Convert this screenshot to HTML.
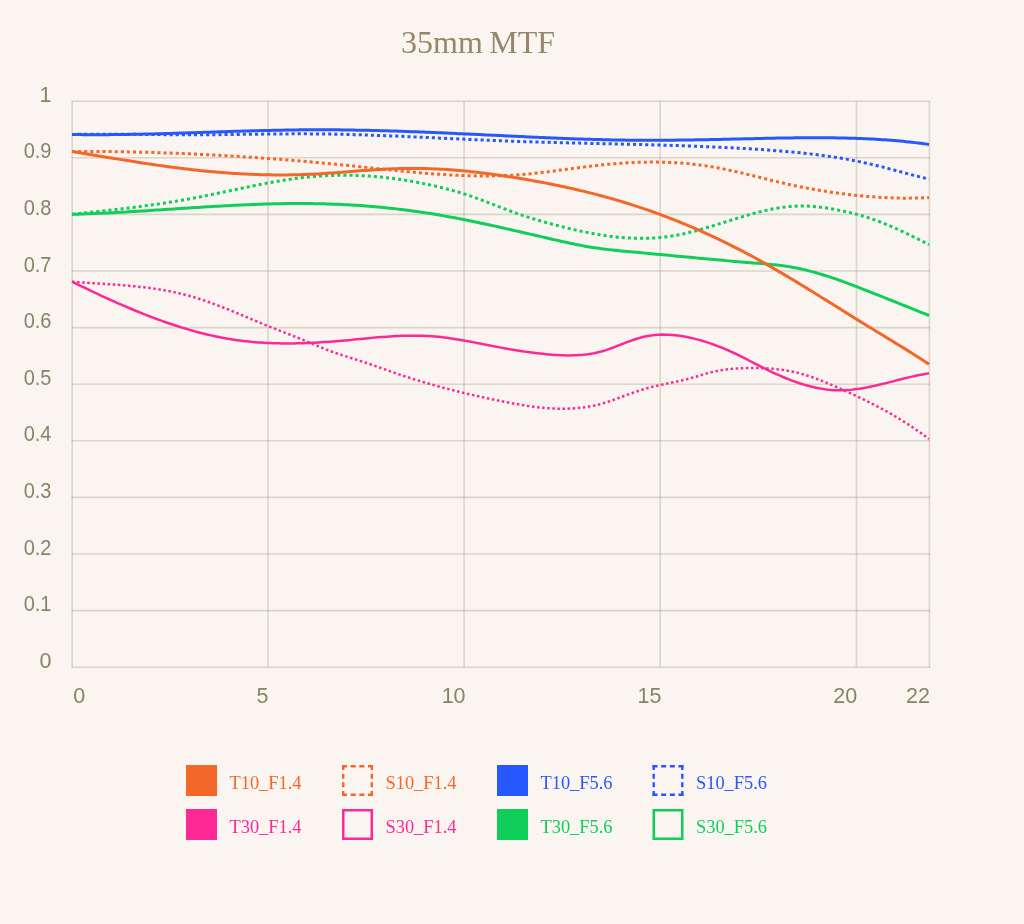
<!DOCTYPE html>
<html><head><meta charset="utf-8"><title>35mm MTF</title>
<style>
html,body{margin:0;padding:0;background:#faf5f1;}
body{width:1024px;height:924px;overflow:hidden;position:relative;}
svg{position:absolute;left:0;top:0;display:block;}
.ax{font-family:"Liberation Sans",sans-serif;font-size:21.5px;fill:#8b8266;}
.ti{font-family:"Liberation Serif",serif;font-size:32px;fill:#96876a;}
.lg{font-family:"Liberation Serif",serif;font-size:18.4px;}
</style></head>
<body>
<svg width="1024" height="924" viewBox="0 0 1024 924">
<rect width="1024" height="924" fill="#faf5f1"/>
<text class="ti" x="401" y="52.9">35mm<tspan dx="-1.6"> MTF</tspan></text>
<g>
<line x1="71.4" y1="667.2" x2="930.2" y2="667.2" stroke="rgba(165,150,120,0.33)" stroke-width="1.6"/>
<line x1="71.4" y1="610.6" x2="930.2" y2="610.6" stroke="rgba(165,150,120,0.33)" stroke-width="1.6"/>
<line x1="71.4" y1="554.0" x2="930.2" y2="554.0" stroke="rgba(165,150,120,0.33)" stroke-width="1.6"/>
<line x1="71.4" y1="497.4" x2="930.2" y2="497.4" stroke="rgba(165,150,120,0.33)" stroke-width="1.6"/>
<line x1="71.4" y1="440.8" x2="930.2" y2="440.8" stroke="rgba(165,150,120,0.33)" stroke-width="1.6"/>
<line x1="71.4" y1="384.2" x2="930.2" y2="384.2" stroke="rgba(165,150,120,0.33)" stroke-width="1.6"/>
<line x1="71.4" y1="327.6" x2="930.2" y2="327.6" stroke="rgba(165,150,120,0.33)" stroke-width="1.6"/>
<line x1="71.4" y1="271.0" x2="930.2" y2="271.0" stroke="rgba(165,150,120,0.33)" stroke-width="1.6"/>
<line x1="71.4" y1="214.4" x2="930.2" y2="214.4" stroke="rgba(165,150,120,0.33)" stroke-width="1.6"/>
<line x1="71.4" y1="157.8" x2="930.2" y2="157.8" stroke="rgba(165,150,120,0.33)" stroke-width="1.6"/>
<line x1="71.4" y1="101.2" x2="930.2" y2="101.2" stroke="rgba(165,150,120,0.33)" stroke-width="1.6"/>
<line x1="72.2" y1="101.2" x2="72.2" y2="667.2" stroke="rgba(165,150,120,0.33)" stroke-width="1.6"/>
<line x1="268.0" y1="101.2" x2="268.0" y2="667.2" stroke="rgba(165,150,120,0.33)" stroke-width="1.6"/>
<line x1="464.1" y1="101.2" x2="464.1" y2="667.2" stroke="rgba(165,150,120,0.33)" stroke-width="1.6"/>
<line x1="660.2" y1="101.2" x2="660.2" y2="667.2" stroke="rgba(165,150,120,0.33)" stroke-width="1.6"/>
<line x1="856.5" y1="101.2" x2="856.5" y2="667.2" stroke="rgba(165,150,120,0.33)" stroke-width="1.6"/>
<line x1="929.4" y1="101.2" x2="929.4" y2="667.2" stroke="rgba(165,150,120,0.33)" stroke-width="1.6"/>
<path d="M72.0,281.69 L75.0,281.93 L78.0,282.16 L81.0,282.38 L84.0,282.59 L87.0,282.79 L90.0,282.99 L93.0,283.19 L96.0,283.38 L99.0,283.58 L102.0,283.77 L105.0,283.97 L108.0,284.16 L111.0,284.37 L114.0,284.58 L117.0,284.80 L120.0,285.02 L123.0,285.26 L126.0,285.51 L129.0,285.77 L132.0,286.04 L135.0,286.33 L138.0,286.64 L141.0,286.97 L144.0,287.31 L147.0,287.68 L150.0,288.07 L153.0,288.48 L156.0,288.92 L159.0,289.38 L162.0,289.87 L165.0,290.40 L168.0,290.95 L171.0,291.53 L174.0,292.15 L177.0,292.80 L180.0,293.49 L183.0,294.21 L186.0,294.98 L189.0,295.78 L192.0,296.62 L195.0,297.51 L198.0,298.44 L201.0,299.41 L204.0,300.41 L207.0,301.44 L210.0,302.51 L213.0,303.60 L216.0,304.73 L219.0,305.87 L222.0,307.04 L225.0,308.23 L228.0,309.43 L231.0,310.65 L234.0,311.89 L237.0,313.13 L240.0,314.38 L243.0,315.64 L246.0,316.90 L249.0,318.16 L252.0,319.42 L255.0,320.68 L258.0,321.93 L261.0,323.17 L264.0,324.41 L267.0,325.63 L270.0,326.83 L273.0,328.02 L276.0,329.20 L279.0,330.38 L282.0,331.55 L285.0,332.71 L288.0,333.89 L291.0,335.06 L294.0,336.25 L297.0,337.45 L300.0,338.66 L303.0,339.89 L306.0,341.14 L309.0,342.40 L312.0,343.67 L315.0,344.93 L318.0,346.18 L321.0,347.42 L324.0,348.62 L327.0,349.80 L330.0,350.94 L333.0,352.04 L336.0,353.09 L339.0,354.11 L342.0,355.10 L345.0,356.07 L348.0,357.03 L351.0,357.98 L354.0,358.92 L357.0,359.87 L360.0,360.82 L363.0,361.79 L366.0,362.78 L369.0,363.80 L372.0,364.83 L375.0,365.87 L378.0,366.93 L381.0,367.99 L384.0,369.05 L387.0,370.12 L390.0,371.18 L393.0,372.24 L396.0,373.28 L399.0,374.31 L402.0,375.32 L405.0,376.32 L408.0,377.30 L411.0,378.27 L414.0,379.22 L417.0,380.15 L420.0,381.07 L423.0,381.98 L426.0,382.87 L429.0,383.75 L432.0,384.61 L435.0,385.46 L438.0,386.29 L441.0,387.11 L444.0,387.92 L447.0,388.72 L450.0,389.50 L453.0,390.27 L456.0,391.03 L459.0,391.77 L462.0,392.51 L465.0,393.23 L468.0,393.94 L471.0,394.64 L474.0,395.33 L477.0,396.01 L480.0,396.68 L483.0,397.34 L486.0,397.99 L489.0,398.63 L492.0,399.26 L495.0,399.88 L498.0,400.49 L501.0,401.09 L504.0,401.69 L507.0,402.27 L510.0,402.85 L513.0,403.41 L516.0,403.95 L519.0,404.47 L522.0,404.98 L525.0,405.46 L528.0,405.92 L531.0,406.35 L534.0,406.75 L537.0,407.13 L540.0,407.47 L543.0,407.77 L546.0,408.04 L549.0,408.27 L552.0,408.46 L555.0,408.60 L558.0,408.70 L561.0,408.75 L564.0,408.75 L567.0,408.71 L570.0,408.60 L573.0,408.44 L576.0,408.23 L579.0,407.95 L582.0,407.61 L585.0,407.21 L588.0,406.74 L591.0,406.21 L594.0,405.60 L597.0,404.92 L600.0,404.17 L603.0,403.33 L606.0,402.43 L609.0,401.46 L612.0,400.44 L615.0,399.38 L618.0,398.28 L621.0,397.17 L624.0,396.04 L627.0,394.92 L630.0,393.81 L633.0,392.72 L636.0,391.67 L639.0,390.66 L642.0,389.70 L645.0,388.81 L648.0,387.97 L651.0,387.19 L654.0,386.45 L657.0,385.75 L660.0,385.08 L663.0,384.43 L666.0,383.80 L669.0,383.17 L672.0,382.54 L675.0,381.91 L678.0,381.26 L681.0,380.60 L684.0,379.90 L687.0,379.16 L690.0,378.39 L693.0,377.56 L696.0,376.69 L699.0,375.79 L702.0,374.88 L705.0,373.99 L708.0,373.13 L711.0,372.33 L714.0,371.61 L717.0,370.98 L720.0,370.42 L723.0,369.93 L726.0,369.51 L729.0,369.16 L732.0,368.87 L735.0,368.63 L738.0,368.44 L741.0,368.29 L744.0,368.19 L747.0,368.12 L750.0,368.08 L753.0,368.07 L756.0,368.08 L759.0,368.12 L762.0,368.20 L765.0,368.31 L768.0,368.45 L771.0,368.64 L774.0,368.88 L777.0,369.17 L780.0,369.51 L783.0,369.91 L786.0,370.38 L789.0,370.90 L792.0,371.50 L795.0,372.17 L798.0,372.91 L801.0,373.71 L804.0,374.58 L807.0,375.51 L810.0,376.49 L813.0,377.52 L816.0,378.61 L819.0,379.74 L822.0,380.91 L825.0,382.11 L828.0,383.35 L831.0,384.62 L834.0,385.92 L837.0,387.23 L840.0,388.55 L843.0,389.89 L846.0,391.24 L849.0,392.60 L852.0,393.98 L855.0,395.38 L858.0,396.79 L861.0,398.22 L864.0,399.67 L867.0,401.14 L870.0,402.64 L873.0,404.16 L876.0,405.71 L879.0,407.28 L882.0,408.89 L885.0,410.53 L888.0,412.20 L891.0,413.90 L894.0,415.64 L897.0,417.42 L900.0,419.23 L903.0,421.09 L906.0,422.98 L909.0,424.92 L912.0,426.91 L915.0,428.94 L918.0,431.01 L921.0,433.14 L924.0,435.32 L927.0,437.55 L929.0,439.06" fill="none" stroke="#ff2994" stroke-width="2.5" stroke-linejoin="round" stroke-dasharray="2.5 2.6"/>
<path d="M72.0,281.64 L75.0,283.12 L78.0,284.58 L81.0,286.04 L84.0,287.49 L87.0,288.94 L90.0,290.37 L93.0,291.79 L96.0,293.21 L99.0,294.61 L102.0,296.01 L105.0,297.39 L108.0,298.76 L111.0,300.12 L114.0,301.46 L117.0,302.79 L120.0,304.11 L123.0,305.42 L126.0,306.71 L129.0,307.99 L132.0,309.25 L135.0,310.49 L138.0,311.72 L141.0,312.93 L144.0,314.13 L147.0,315.30 L150.0,316.46 L153.0,317.60 L156.0,318.72 L159.0,319.82 L162.0,320.91 L165.0,321.97 L168.0,323.01 L171.0,324.03 L174.0,325.03 L177.0,326.00 L180.0,326.95 L183.0,327.88 L186.0,328.79 L189.0,329.67 L192.0,330.53 L195.0,331.36 L198.0,332.17 L201.0,332.95 L204.0,333.70 L207.0,334.43 L210.0,335.13 L213.0,335.81 L216.0,336.45 L219.0,337.07 L222.0,337.65 L225.0,338.21 L228.0,338.74 L231.0,339.24 L234.0,339.70 L237.0,340.14 L240.0,340.54 L243.0,340.92 L246.0,341.27 L249.0,341.59 L252.0,341.88 L255.0,342.14 L258.0,342.38 L261.0,342.59 L264.0,342.78 L267.0,342.94 L270.0,343.08 L273.0,343.19 L276.0,343.28 L279.0,343.35 L282.0,343.40 L285.0,343.43 L288.0,343.43 L291.0,343.42 L294.0,343.38 L297.0,343.33 L300.0,343.26 L303.0,343.17 L306.0,343.07 L309.0,342.94 L312.0,342.81 L315.0,342.65 L318.0,342.49 L321.0,342.31 L324.0,342.11 L327.0,341.90 L330.0,341.69 L333.0,341.45 L336.0,341.21 L339.0,340.96 L342.0,340.70 L345.0,340.43 L348.0,340.15 L351.0,339.87 L354.0,339.58 L357.0,339.29 L360.0,339.01 L363.0,338.72 L366.0,338.43 L369.0,338.16 L372.0,337.88 L375.0,337.62 L378.0,337.36 L381.0,337.12 L384.0,336.89 L387.0,336.67 L390.0,336.47 L393.0,336.28 L396.0,336.12 L399.0,335.98 L402.0,335.86 L405.0,335.76 L408.0,335.69 L411.0,335.65 L414.0,335.64 L417.0,335.66 L420.0,335.71 L423.0,335.79 L426.0,335.92 L429.0,336.07 L432.0,336.27 L435.0,336.51 L438.0,336.79 L441.0,337.10 L444.0,337.45 L447.0,337.84 L450.0,338.25 L453.0,338.69 L456.0,339.16 L459.0,339.65 L462.0,340.16 L465.0,340.69 L468.0,341.23 L471.0,341.79 L474.0,342.36 L477.0,342.94 L480.0,343.53 L483.0,344.12 L486.0,344.71 L489.0,345.30 L492.0,345.89 L495.0,346.48 L498.0,347.05 L501.0,347.62 L504.0,348.17 L507.0,348.71 L510.0,349.24 L513.0,349.75 L516.0,350.25 L519.0,350.72 L522.0,351.19 L525.0,351.63 L528.0,352.05 L531.0,352.46 L534.0,352.84 L537.0,353.20 L540.0,353.54 L543.0,353.86 L546.0,354.15 L549.0,354.42 L552.0,354.66 L555.0,354.88 L558.0,355.06 L561.0,355.21 L564.0,355.32 L567.0,355.39 L570.0,355.41 L573.0,355.37 L576.0,355.27 L579.0,355.11 L582.0,354.89 L585.0,354.59 L588.0,354.21 L591.0,353.75 L594.0,353.20 L597.0,352.57 L600.0,351.83 L603.0,351.00 L606.0,350.07 L609.0,349.06 L612.0,347.98 L615.0,346.85 L618.0,345.70 L621.0,344.52 L624.0,343.35 L627.0,342.20 L630.0,341.08 L633.0,340.01 L636.0,339.01 L639.0,338.09 L642.0,337.27 L645.0,336.57 L648.0,335.98 L651.0,335.50 L654.0,335.13 L657.0,334.86 L660.0,334.69 L663.0,334.62 L666.0,334.63 L669.0,334.74 L672.0,334.93 L675.0,335.20 L678.0,335.56 L681.0,335.98 L684.0,336.48 L687.0,337.04 L690.0,337.67 L693.0,338.35 L696.0,339.10 L699.0,339.90 L702.0,340.76 L705.0,341.67 L708.0,342.63 L711.0,343.64 L714.0,344.71 L717.0,345.82 L720.0,346.99 L723.0,348.20 L726.0,349.46 L729.0,350.76 L732.0,352.11 L735.0,353.50 L738.0,354.93 L741.0,356.40 L744.0,357.91 L747.0,359.45 L750.0,361.00 L753.0,362.56 L756.0,364.12 L759.0,365.67 L762.0,367.20 L765.0,368.70 L768.0,370.17 L771.0,371.61 L774.0,373.01 L777.0,374.38 L780.0,375.72 L783.0,377.00 L786.0,378.25 L789.0,379.45 L792.0,380.60 L795.0,381.70 L798.0,382.74 L801.0,383.73 L804.0,384.66 L807.0,385.52 L810.0,386.33 L813.0,387.06 L816.0,387.73 L819.0,388.33 L822.0,388.85 L825.0,389.29 L828.0,389.66 L831.0,389.95 L834.0,390.15 L837.0,390.26 L840.0,390.29 L843.0,390.23 L846.0,390.10 L849.0,389.89 L852.0,389.62 L855.0,389.28 L858.0,388.88 L861.0,388.43 L864.0,387.92 L867.0,387.37 L870.0,386.78 L873.0,386.15 L876.0,385.49 L879.0,384.80 L882.0,384.09 L885.0,383.36 L888.0,382.61 L891.0,381.85 L894.0,381.09 L897.0,380.33 L900.0,379.57 L903.0,378.81 L906.0,378.08 L909.0,377.35 L912.0,376.65 L915.0,375.98 L918.0,375.33 L921.0,374.73 L924.0,374.16 L927.0,373.63 L929.0,373.31" fill="none" stroke="#ff2994" stroke-width="2.5" stroke-linejoin="round"/>
<path d="M72.0,214.27 L75.0,213.96 L78.0,213.64 L81.0,213.32 L84.0,213.00 L87.0,212.68 L90.0,212.36 L93.0,212.04 L96.0,211.71 L99.0,211.38 L102.0,211.05 L105.0,210.72 L108.0,210.38 L111.0,210.04 L114.0,209.70 L117.0,209.35 L120.0,209.00 L123.0,208.64 L126.0,208.28 L129.0,207.91 L132.0,207.54 L135.0,207.16 L138.0,206.77 L141.0,206.38 L144.0,205.98 L147.0,205.57 L150.0,205.16 L153.0,204.73 L156.0,204.30 L159.0,203.86 L162.0,203.42 L165.0,202.96 L168.0,202.49 L171.0,202.02 L174.0,201.53 L177.0,201.03 L180.0,200.53 L183.0,200.01 L186.0,199.48 L189.0,198.94 L192.0,198.39 L195.0,197.82 L198.0,197.25 L201.0,196.66 L204.0,196.07 L207.0,195.46 L210.0,194.85 L213.0,194.24 L216.0,193.61 L219.0,192.99 L222.0,192.36 L225.0,191.72 L228.0,191.09 L231.0,190.46 L234.0,189.82 L237.0,189.19 L240.0,188.56 L243.0,187.93 L246.0,187.31 L249.0,186.69 L252.0,186.08 L255.0,185.48 L258.0,184.88 L261.0,184.29 L264.0,183.72 L267.0,183.15 L270.0,182.60 L273.0,182.05 L276.0,181.53 L279.0,181.02 L282.0,180.52 L285.0,180.04 L288.0,179.58 L291.0,179.14 L294.0,178.71 L297.0,178.31 L300.0,177.93 L303.0,177.57 L306.0,177.24 L309.0,176.93 L312.0,176.64 L315.0,176.39 L318.0,176.15 L321.0,175.95 L324.0,175.77 L327.0,175.61 L330.0,175.49 L333.0,175.38 L336.0,175.31 L339.0,175.26 L342.0,175.23 L345.0,175.23 L348.0,175.25 L351.0,175.30 L354.0,175.37 L357.0,175.47 L360.0,175.59 L363.0,175.73 L366.0,175.90 L369.0,176.09 L372.0,176.31 L375.0,176.55 L378.0,176.81 L381.0,177.10 L384.0,177.41 L387.0,177.74 L390.0,178.09 L393.0,178.47 L396.0,178.87 L399.0,179.29 L402.0,179.73 L405.0,180.20 L408.0,180.69 L411.0,181.20 L414.0,181.73 L417.0,182.28 L420.0,182.85 L423.0,183.44 L426.0,184.06 L429.0,184.69 L432.0,185.35 L435.0,186.03 L438.0,186.72 L441.0,187.44 L444.0,188.19 L447.0,188.96 L450.0,189.76 L453.0,190.58 L456.0,191.43 L459.0,192.31 L462.0,193.23 L465.0,194.17 L468.0,195.15 L471.0,196.17 L474.0,197.22 L477.0,198.30 L480.0,199.41 L483.0,200.55 L486.0,201.70 L489.0,202.87 L492.0,204.04 L495.0,205.22 L498.0,206.40 L501.0,207.57 L504.0,208.72 L507.0,209.87 L510.0,210.98 L513.0,212.08 L516.0,213.14 L519.0,214.18 L522.0,215.19 L525.0,216.17 L528.0,217.13 L531.0,218.07 L534.0,218.99 L537.0,219.88 L540.0,220.76 L543.0,221.62 L546.0,222.46 L549.0,223.29 L552.0,224.10 L555.0,224.91 L558.0,225.70 L561.0,226.47 L564.0,227.23 L567.0,227.97 L570.0,228.70 L573.0,229.41 L576.0,230.09 L579.0,230.76 L582.0,231.41 L585.0,232.03 L588.0,232.64 L591.0,233.21 L594.0,233.76 L597.0,234.29 L600.0,234.79 L603.0,235.26 L606.0,235.70 L609.0,236.11 L612.0,236.49 L615.0,236.84 L618.0,237.15 L621.0,237.43 L624.0,237.68 L627.0,237.89 L630.0,238.06 L633.0,238.19 L636.0,238.28 L639.0,238.34 L642.0,238.35 L645.0,238.32 L648.0,238.25 L651.0,238.13 L654.0,237.97 L657.0,237.76 L660.0,237.50 L663.0,237.20 L666.0,236.85 L669.0,236.44 L672.0,235.99 L675.0,235.48 L678.0,234.93 L681.0,234.33 L684.0,233.68 L687.0,233.00 L690.0,232.27 L693.0,231.52 L696.0,230.73 L699.0,229.91 L702.0,229.07 L705.0,228.20 L708.0,227.31 L711.0,226.41 L714.0,225.49 L717.0,224.57 L720.0,223.63 L723.0,222.69 L726.0,221.74 L729.0,220.80 L732.0,219.86 L735.0,218.93 L738.0,218.01 L741.0,217.10 L744.0,216.20 L747.0,215.32 L750.0,214.47 L753.0,213.64 L756.0,212.83 L759.0,212.06 L762.0,211.32 L765.0,210.61 L768.0,209.95 L771.0,209.32 L774.0,208.75 L777.0,208.21 L780.0,207.73 L783.0,207.31 L786.0,206.94 L789.0,206.62 L792.0,206.38 L795.0,206.19 L798.0,206.07 L801.0,206.02 L804.0,206.04 L807.0,206.12 L810.0,206.27 L813.0,206.48 L816.0,206.74 L819.0,207.06 L822.0,207.43 L825.0,207.84 L828.0,208.29 L831.0,208.78 L834.0,209.30 L837.0,209.85 L840.0,210.42 L843.0,211.04 L846.0,211.68 L849.0,212.37 L852.0,213.09 L855.0,213.85 L858.0,214.65 L861.0,215.49 L864.0,216.37 L867.0,217.30 L870.0,218.28 L873.0,219.30 L876.0,220.37 L879.0,221.49 L882.0,222.64 L885.0,223.84 L888.0,225.08 L891.0,226.36 L894.0,227.66 L897.0,229.00 L900.0,230.37 L903.0,231.77 L906.0,233.18 L909.0,234.63 L912.0,236.09 L915.0,237.56 L918.0,239.06 L921.0,240.56 L924.0,242.08 L927.0,243.60 L929.0,244.62" fill="none" stroke="#0fce5a" stroke-width="3" stroke-linejoin="round" stroke-dasharray="3.1 3"/>
<path d="M72.0,214.33 L75.0,214.25 L78.0,214.16 L81.0,214.06 L84.0,213.96 L87.0,213.85 L90.0,213.74 L93.0,213.62 L96.0,213.49 L99.0,213.36 L102.0,213.22 L105.0,213.08 L108.0,212.93 L111.0,212.78 L114.0,212.63 L117.0,212.47 L120.0,212.30 L123.0,212.14 L126.0,211.97 L129.0,211.79 L132.0,211.62 L135.0,211.44 L138.0,211.25 L141.0,211.07 L144.0,210.88 L147.0,210.69 L150.0,210.50 L153.0,210.31 L156.0,210.12 L159.0,209.92 L162.0,209.73 L165.0,209.53 L168.0,209.34 L171.0,209.14 L174.0,208.94 L177.0,208.75 L180.0,208.55 L183.0,208.35 L186.0,208.16 L189.0,207.97 L192.0,207.77 L195.0,207.58 L198.0,207.39 L201.0,207.21 L204.0,207.02 L207.0,206.84 L210.0,206.66 L213.0,206.48 L216.0,206.31 L219.0,206.14 L222.0,205.97 L225.0,205.80 L228.0,205.64 L231.0,205.49 L234.0,205.34 L237.0,205.19 L240.0,205.05 L243.0,204.91 L246.0,204.78 L249.0,204.65 L252.0,204.53 L255.0,204.41 L258.0,204.30 L261.0,204.20 L264.0,204.10 L267.0,204.01 L270.0,203.93 L273.0,203.85 L276.0,203.78 L279.0,203.72 L282.0,203.66 L285.0,203.62 L288.0,203.58 L291.0,203.55 L294.0,203.53 L297.0,203.52 L300.0,203.52 L303.0,203.52 L306.0,203.54 L309.0,203.56 L312.0,203.60 L315.0,203.64 L318.0,203.70 L321.0,203.76 L324.0,203.84 L327.0,203.93 L330.0,204.02 L333.0,204.13 L336.0,204.25 L339.0,204.37 L342.0,204.51 L345.0,204.66 L348.0,204.82 L351.0,204.99 L354.0,205.17 L357.0,205.37 L360.0,205.57 L363.0,205.78 L366.0,206.01 L369.0,206.24 L372.0,206.49 L375.0,206.75 L378.0,207.02 L381.0,207.30 L384.0,207.59 L387.0,207.89 L390.0,208.21 L393.0,208.53 L396.0,208.87 L399.0,209.22 L402.0,209.58 L405.0,209.95 L408.0,210.33 L411.0,210.73 L414.0,211.14 L417.0,211.56 L420.0,211.99 L423.0,212.43 L426.0,212.89 L429.0,213.35 L432.0,213.83 L435.0,214.32 L438.0,214.83 L441.0,215.34 L444.0,215.87 L447.0,216.40 L450.0,216.95 L453.0,217.51 L456.0,218.07 L459.0,218.65 L462.0,219.23 L465.0,219.83 L468.0,220.43 L471.0,221.04 L474.0,221.66 L477.0,222.28 L480.0,222.91 L483.0,223.55 L486.0,224.19 L489.0,224.84 L492.0,225.50 L495.0,226.16 L498.0,226.82 L501.0,227.49 L504.0,228.16 L507.0,228.84 L510.0,229.52 L513.0,230.20 L516.0,230.89 L519.0,231.57 L522.0,232.26 L525.0,232.95 L528.0,233.64 L531.0,234.34 L534.0,235.03 L537.0,235.72 L540.0,236.41 L543.0,237.11 L546.0,237.80 L549.0,238.49 L552.0,239.17 L555.0,239.86 L558.0,240.54 L561.0,241.22 L564.0,241.88 L567.0,242.54 L570.0,243.18 L573.0,243.81 L576.0,244.43 L579.0,245.02 L582.0,245.60 L585.0,246.15 L588.0,246.68 L591.0,247.18 L594.0,247.65 L597.0,248.09 L600.0,248.51 L603.0,248.91 L606.0,249.28 L609.0,249.63 L612.0,249.97 L615.0,250.29 L618.0,250.60 L621.0,250.90 L624.0,251.19 L627.0,251.47 L630.0,251.75 L633.0,252.03 L636.0,252.31 L639.0,252.58 L642.0,252.86 L645.0,253.13 L648.0,253.41 L651.0,253.68 L654.0,253.96 L657.0,254.23 L660.0,254.51 L663.0,254.79 L666.0,255.06 L669.0,255.34 L672.0,255.62 L675.0,255.90 L678.0,256.18 L681.0,256.46 L684.0,256.74 L687.0,257.03 L690.0,257.31 L693.0,257.59 L696.0,257.87 L699.0,258.15 L702.0,258.43 L705.0,258.71 L708.0,258.99 L711.0,259.26 L714.0,259.54 L717.0,259.81 L720.0,260.08 L723.0,260.35 L726.0,260.62 L729.0,260.88 L732.0,261.14 L735.0,261.40 L738.0,261.66 L741.0,261.91 L744.0,262.16 L747.0,262.41 L750.0,262.65 L753.0,262.89 L756.0,263.13 L759.0,263.36 L762.0,263.60 L765.0,263.85 L768.0,264.12 L771.0,264.40 L774.0,264.70 L777.0,265.02 L780.0,265.38 L783.0,265.76 L786.0,266.18 L789.0,266.64 L792.0,267.15 L795.0,267.70 L798.0,268.30 L801.0,268.94 L804.0,269.62 L807.0,270.34 L810.0,271.11 L813.0,271.91 L816.0,272.74 L819.0,273.61 L822.0,274.52 L825.0,275.45 L828.0,276.41 L831.0,277.40 L834.0,278.41 L837.0,279.45 L840.0,280.51 L843.0,281.58 L846.0,282.68 L849.0,283.80 L852.0,284.93 L855.0,286.07 L858.0,287.22 L861.0,288.39 L864.0,289.56 L867.0,290.74 L870.0,291.92 L873.0,293.11 L876.0,294.29 L879.0,295.48 L882.0,296.68 L885.0,297.87 L888.0,299.06 L891.0,300.26 L894.0,301.46 L897.0,302.66 L900.0,303.86 L903.0,305.06 L906.0,306.26 L909.0,307.46 L912.0,308.66 L915.0,309.87 L918.0,311.07 L921.0,312.28 L924.0,313.48 L927.0,314.69 L929.0,315.49" fill="none" stroke="#0fce5a" stroke-width="3" stroke-linejoin="round"/>
<path d="M72.0,151.48 L75.0,151.46 L78.0,151.45 L81.0,151.45 L84.0,151.45 L87.0,151.45 L90.0,151.46 L93.0,151.47 L96.0,151.49 L99.0,151.51 L102.0,151.53 L105.0,151.55 L108.0,151.59 L111.0,151.62 L114.0,151.66 L117.0,151.70 L120.0,151.75 L123.0,151.79 L126.0,151.85 L129.0,151.91 L132.0,151.97 L135.0,152.03 L138.0,152.10 L141.0,152.17 L144.0,152.25 L147.0,152.33 L150.0,152.41 L153.0,152.50 L156.0,152.59 L159.0,152.68 L162.0,152.78 L165.0,152.88 L168.0,152.98 L171.0,153.09 L174.0,153.21 L177.0,153.32 L180.0,153.44 L183.0,153.56 L186.0,153.69 L189.0,153.82 L192.0,153.95 L195.0,154.09 L198.0,154.23 L201.0,154.38 L204.0,154.52 L207.0,154.67 L210.0,154.83 L213.0,154.99 L216.0,155.15 L219.0,155.31 L222.0,155.48 L225.0,155.65 L228.0,155.83 L231.0,156.01 L234.0,156.19 L237.0,156.37 L240.0,156.56 L243.0,156.76 L246.0,156.95 L249.0,157.15 L252.0,157.35 L255.0,157.56 L258.0,157.77 L261.0,157.98 L264.0,158.19 L267.0,158.41 L270.0,158.63 L273.0,158.86 L276.0,159.09 L279.0,159.32 L282.0,159.55 L285.0,159.79 L288.0,160.03 L291.0,160.27 L294.0,160.52 L297.0,160.77 L300.0,161.03 L303.0,161.28 L306.0,161.54 L309.0,161.80 L312.0,162.07 L315.0,162.34 L318.0,162.61 L321.0,162.89 L324.0,163.17 L327.0,163.45 L330.0,163.73 L333.0,164.02 L336.0,164.31 L339.0,164.60 L342.0,164.90 L345.0,165.20 L348.0,165.50 L351.0,165.81 L354.0,166.11 L357.0,166.43 L360.0,166.74 L363.0,167.05 L366.0,167.37 L369.0,167.69 L372.0,168.00 L375.0,168.32 L378.0,168.64 L381.0,168.95 L384.0,169.27 L387.0,169.58 L390.0,169.89 L393.0,170.20 L396.0,170.50 L399.0,170.80 L402.0,171.10 L405.0,171.39 L408.0,171.68 L411.0,171.96 L414.0,172.24 L417.0,172.51 L420.0,172.77 L423.0,173.03 L426.0,173.28 L429.0,173.52 L432.0,173.75 L435.0,173.97 L438.0,174.18 L441.0,174.39 L444.0,174.58 L447.0,174.76 L450.0,174.93 L453.0,175.09 L456.0,175.24 L459.0,175.37 L462.0,175.50 L465.0,175.60 L468.0,175.70 L471.0,175.78 L474.0,175.84 L477.0,175.89 L480.0,175.93 L483.0,175.94 L486.0,175.95 L489.0,175.93 L492.0,175.90 L495.0,175.85 L498.0,175.78 L501.0,175.69 L504.0,175.58 L507.0,175.45 L510.0,175.31 L513.0,175.14 L516.0,174.95 L519.0,174.74 L522.0,174.51 L525.0,174.25 L528.0,173.98 L531.0,173.69 L534.0,173.38 L537.0,173.05 L540.0,172.72 L543.0,172.36 L546.0,172.00 L549.0,171.63 L552.0,171.25 L555.0,170.86 L558.0,170.46 L561.0,170.06 L564.0,169.66 L567.0,169.26 L570.0,168.85 L573.0,168.45 L576.0,168.05 L579.0,167.65 L582.0,167.26 L585.0,166.88 L588.0,166.50 L591.0,166.13 L594.0,165.77 L597.0,165.43 L600.0,165.10 L603.0,164.78 L606.0,164.48 L609.0,164.20 L612.0,163.93 L615.0,163.68 L618.0,163.44 L621.0,163.22 L624.0,163.02 L627.0,162.84 L630.0,162.68 L633.0,162.53 L636.0,162.41 L639.0,162.30 L642.0,162.22 L645.0,162.15 L648.0,162.11 L651.0,162.08 L654.0,162.08 L657.0,162.10 L660.0,162.14 L663.0,162.21 L666.0,162.30 L669.0,162.41 L672.0,162.54 L675.0,162.70 L678.0,162.89 L681.0,163.10 L684.0,163.33 L687.0,163.59 L690.0,163.88 L693.0,164.19 L696.0,164.53 L699.0,164.90 L702.0,165.29 L705.0,165.72 L708.0,166.17 L711.0,166.65 L714.0,167.16 L717.0,167.70 L720.0,168.26 L723.0,168.85 L726.0,169.47 L729.0,170.10 L732.0,170.75 L735.0,171.42 L738.0,172.11 L741.0,172.81 L744.0,173.52 L747.0,174.24 L750.0,174.97 L753.0,175.71 L756.0,176.45 L759.0,177.19 L762.0,177.94 L765.0,178.69 L768.0,179.43 L771.0,180.17 L774.0,180.91 L777.0,181.63 L780.0,182.35 L783.0,183.06 L786.0,183.75 L789.0,184.43 L792.0,185.09 L795.0,185.73 L798.0,186.36 L801.0,186.97 L804.0,187.56 L807.0,188.13 L810.0,188.69 L813.0,189.23 L816.0,189.76 L819.0,190.27 L822.0,190.76 L825.0,191.24 L828.0,191.71 L831.0,192.16 L834.0,192.59 L837.0,193.01 L840.0,193.42 L843.0,193.82 L846.0,194.19 L849.0,194.56 L852.0,194.90 L855.0,195.23 L858.0,195.55 L861.0,195.85 L864.0,196.13 L867.0,196.39 L870.0,196.64 L873.0,196.87 L876.0,197.08 L879.0,197.28 L882.0,197.45 L885.0,197.61 L888.0,197.74 L891.0,197.86 L894.0,197.96 L897.0,198.04 L900.0,198.10 L903.0,198.13 L906.0,198.15 L909.0,198.14 L912.0,198.12 L915.0,198.07 L918.0,198.00 L921.0,197.91 L924.0,197.79 L927.0,197.66 L929.0,197.55" fill="none" stroke="#f36829" stroke-width="3" stroke-linejoin="round" stroke-dasharray="3.1 3"/>
<path d="M72.0,151.61 L75.0,152.08 L78.0,152.56 L81.0,153.04 L84.0,153.52 L87.0,154.01 L90.0,154.49 L93.0,154.98 L96.0,155.47 L99.0,155.96 L102.0,156.45 L105.0,156.94 L108.0,157.43 L111.0,157.91 L114.0,158.40 L117.0,158.89 L120.0,159.37 L123.0,159.86 L126.0,160.34 L129.0,160.81 L132.0,161.29 L135.0,161.76 L138.0,162.23 L141.0,162.69 L144.0,163.15 L147.0,163.61 L150.0,164.06 L153.0,164.50 L156.0,164.94 L159.0,165.37 L162.0,165.80 L165.0,166.22 L168.0,166.64 L171.0,167.04 L174.0,167.44 L177.0,167.83 L180.0,168.21 L183.0,168.59 L186.0,168.95 L189.0,169.31 L192.0,169.66 L195.0,169.99 L198.0,170.32 L201.0,170.64 L204.0,170.94 L207.0,171.24 L210.0,171.52 L213.0,171.80 L216.0,172.06 L219.0,172.32 L222.0,172.56 L225.0,172.79 L228.0,173.01 L231.0,173.22 L234.0,173.42 L237.0,173.60 L240.0,173.78 L243.0,173.94 L246.0,174.09 L249.0,174.23 L252.0,174.36 L255.0,174.47 L258.0,174.58 L261.0,174.67 L264.0,174.74 L267.0,174.81 L270.0,174.86 L273.0,174.90 L276.0,174.93 L279.0,174.94 L282.0,174.94 L285.0,174.93 L288.0,174.91 L291.0,174.87 L294.0,174.81 L297.0,174.75 L300.0,174.67 L303.0,174.57 L306.0,174.46 L309.0,174.34 L312.0,174.21 L315.0,174.05 L318.0,173.89 L321.0,173.71 L324.0,173.53 L327.0,173.33 L330.0,173.12 L333.0,172.91 L336.0,172.69 L339.0,172.47 L342.0,172.24 L345.0,172.01 L348.0,171.77 L351.0,171.54 L354.0,171.30 L357.0,171.07 L360.0,170.84 L363.0,170.62 L366.0,170.40 L369.0,170.18 L372.0,169.97 L375.0,169.78 L378.0,169.59 L381.0,169.41 L384.0,169.24 L387.0,169.09 L390.0,168.95 L393.0,168.82 L396.0,168.72 L399.0,168.62 L402.0,168.55 L405.0,168.49 L408.0,168.45 L411.0,168.42 L414.0,168.42 L417.0,168.43 L420.0,168.46 L423.0,168.50 L426.0,168.57 L429.0,168.65 L432.0,168.75 L435.0,168.88 L438.0,169.02 L441.0,169.17 L444.0,169.35 L447.0,169.54 L450.0,169.75 L453.0,169.98 L456.0,170.22 L459.0,170.48 L462.0,170.75 L465.0,171.04 L468.0,171.34 L471.0,171.66 L474.0,171.99 L477.0,172.34 L480.0,172.69 L483.0,173.06 L486.0,173.44 L489.0,173.84 L492.0,174.24 L495.0,174.66 L498.0,175.08 L501.0,175.52 L504.0,175.97 L507.0,176.42 L510.0,176.89 L513.0,177.36 L516.0,177.84 L519.0,178.33 L522.0,178.83 L525.0,179.33 L528.0,179.85 L531.0,180.38 L534.0,180.91 L537.0,181.46 L540.0,182.01 L543.0,182.57 L546.0,183.15 L549.0,183.73 L552.0,184.33 L555.0,184.94 L558.0,185.55 L561.0,186.18 L564.0,186.82 L567.0,187.47 L570.0,188.14 L573.0,188.81 L576.0,189.50 L579.0,190.20 L582.0,190.91 L585.0,191.64 L588.0,192.38 L591.0,193.13 L594.0,193.89 L597.0,194.67 L600.0,195.46 L603.0,196.26 L606.0,197.08 L609.0,197.92 L612.0,198.77 L615.0,199.63 L618.0,200.51 L621.0,201.40 L624.0,202.31 L627.0,203.23 L630.0,204.17 L633.0,205.12 L636.0,206.09 L639.0,207.08 L642.0,208.08 L645.0,209.10 L648.0,210.13 L651.0,211.19 L654.0,212.25 L657.0,213.34 L660.0,214.43 L663.0,215.55 L666.0,216.68 L669.0,217.83 L672.0,219.00 L675.0,220.18 L678.0,221.37 L681.0,222.59 L684.0,223.82 L687.0,225.07 L690.0,226.33 L693.0,227.61 L696.0,228.91 L699.0,230.22 L702.0,231.55 L705.0,232.90 L708.0,234.27 L711.0,235.65 L714.0,237.05 L717.0,238.46 L720.0,239.89 L723.0,241.34 L726.0,242.81 L729.0,244.30 L732.0,245.80 L735.0,247.32 L738.0,248.85 L741.0,250.40 L744.0,251.97 L747.0,253.56 L750.0,255.17 L753.0,256.79 L756.0,258.43 L759.0,260.09 L762.0,261.76 L765.0,263.45 L768.0,265.15 L771.0,266.87 L774.0,268.60 L777.0,270.35 L780.0,272.10 L783.0,273.87 L786.0,275.65 L789.0,277.44 L792.0,279.24 L795.0,281.05 L798.0,282.87 L801.0,284.69 L804.0,286.53 L807.0,288.37 L810.0,290.21 L813.0,292.07 L816.0,293.92 L819.0,295.79 L822.0,297.65 L825.0,299.52 L828.0,301.39 L831.0,303.26 L834.0,305.14 L837.0,307.01 L840.0,308.89 L843.0,310.76 L846.0,312.64 L849.0,314.51 L852.0,316.38 L855.0,318.24 L858.0,320.11 L861.0,321.96 L864.0,323.82 L867.0,325.67 L870.0,327.51 L873.0,329.34 L876.0,331.17 L879.0,333.00 L882.0,334.82 L885.0,336.64 L888.0,338.46 L891.0,340.28 L894.0,342.11 L897.0,343.94 L900.0,345.78 L903.0,347.63 L906.0,349.49 L909.0,351.36 L912.0,353.24 L915.0,355.15 L918.0,357.07 L921.0,359.01 L924.0,360.97 L927.0,362.95 L929.0,364.29" fill="none" stroke="#f36829" stroke-width="3" stroke-linejoin="round"/>
<path d="M72.0,134.46 L75.0,134.40 L78.0,134.35 L81.0,134.30 L84.0,134.26 L87.0,134.22 L90.0,134.20 L93.0,134.17 L96.0,134.16 L99.0,134.15 L102.0,134.14 L105.0,134.14 L108.0,134.14 L111.0,134.15 L114.0,134.16 L117.0,134.17 L120.0,134.19 L123.0,134.21 L126.0,134.24 L129.0,134.26 L132.0,134.29 L135.0,134.32 L138.0,134.35 L141.0,134.38 L144.0,134.41 L147.0,134.45 L150.0,134.48 L153.0,134.51 L156.0,134.54 L159.0,134.58 L162.0,134.61 L165.0,134.63 L168.0,134.66 L171.0,134.69 L174.0,134.71 L177.0,134.73 L180.0,134.75 L183.0,134.76 L186.0,134.77 L189.0,134.78 L192.0,134.79 L195.0,134.78 L198.0,134.78 L201.0,134.77 L204.0,134.76 L207.0,134.74 L210.0,134.72 L213.0,134.70 L216.0,134.67 L219.0,134.64 L222.0,134.61 L225.0,134.58 L228.0,134.55 L231.0,134.51 L234.0,134.47 L237.0,134.44 L240.0,134.40 L243.0,134.36 L246.0,134.32 L249.0,134.28 L252.0,134.24 L255.0,134.20 L258.0,134.17 L261.0,134.13 L264.0,134.09 L267.0,134.06 L270.0,134.03 L273.0,134.00 L276.0,133.97 L279.0,133.94 L282.0,133.92 L285.0,133.90 L288.0,133.88 L291.0,133.87 L294.0,133.86 L297.0,133.85 L300.0,133.85 L303.0,133.85 L306.0,133.86 L309.0,133.87 L312.0,133.89 L315.0,133.91 L318.0,133.94 L321.0,133.98 L324.0,134.01 L327.0,134.06 L330.0,134.10 L333.0,134.16 L336.0,134.21 L339.0,134.28 L342.0,134.34 L345.0,134.41 L348.0,134.49 L351.0,134.56 L354.0,134.64 L357.0,134.73 L360.0,134.82 L363.0,134.91 L366.0,135.01 L369.0,135.11 L372.0,135.21 L375.0,135.31 L378.0,135.42 L381.0,135.53 L384.0,135.65 L387.0,135.76 L390.0,135.88 L393.0,136.00 L396.0,136.12 L399.0,136.25 L402.0,136.37 L405.0,136.50 L408.0,136.63 L411.0,136.76 L414.0,136.89 L417.0,137.03 L420.0,137.16 L423.0,137.30 L426.0,137.43 L429.0,137.57 L432.0,137.71 L435.0,137.85 L438.0,137.99 L441.0,138.13 L444.0,138.27 L447.0,138.41 L450.0,138.55 L453.0,138.68 L456.0,138.82 L459.0,138.96 L462.0,139.10 L465.0,139.24 L468.0,139.37 L471.0,139.51 L474.0,139.64 L477.0,139.78 L480.0,139.91 L483.0,140.04 L486.0,140.17 L489.0,140.29 L492.0,140.42 L495.0,140.54 L498.0,140.66 L501.0,140.78 L504.0,140.90 L507.0,141.01 L510.0,141.13 L513.0,141.24 L516.0,141.34 L519.0,141.45 L522.0,141.55 L525.0,141.65 L528.0,141.74 L531.0,141.84 L534.0,141.93 L537.0,142.02 L540.0,142.11 L543.0,142.20 L546.0,142.28 L549.0,142.36 L552.0,142.44 L555.0,142.52 L558.0,142.60 L561.0,142.68 L564.0,142.75 L567.0,142.83 L570.0,142.90 L573.0,142.98 L576.0,143.05 L579.0,143.12 L582.0,143.19 L585.0,143.26 L588.0,143.33 L591.0,143.40 L594.0,143.47 L597.0,143.53 L600.0,143.60 L603.0,143.67 L606.0,143.74 L609.0,143.81 L612.0,143.87 L615.0,143.94 L618.0,144.01 L621.0,144.08 L624.0,144.15 L627.0,144.22 L630.0,144.29 L633.0,144.37 L636.0,144.44 L639.0,144.52 L642.0,144.59 L645.0,144.67 L648.0,144.75 L651.0,144.83 L654.0,144.91 L657.0,144.99 L660.0,145.07 L663.0,145.16 L666.0,145.25 L669.0,145.34 L672.0,145.43 L675.0,145.53 L678.0,145.62 L681.0,145.72 L684.0,145.82 L687.0,145.93 L690.0,146.03 L693.0,146.14 L696.0,146.25 L699.0,146.37 L702.0,146.49 L705.0,146.61 L708.0,146.73 L711.0,146.86 L714.0,146.99 L717.0,147.12 L720.0,147.26 L723.0,147.40 L726.0,147.55 L729.0,147.70 L732.0,147.85 L735.0,148.01 L738.0,148.17 L741.0,148.33 L744.0,148.50 L747.0,148.67 L750.0,148.85 L753.0,149.03 L756.0,149.22 L759.0,149.41 L762.0,149.61 L765.0,149.81 L768.0,150.02 L771.0,150.24 L774.0,150.47 L777.0,150.70 L780.0,150.94 L783.0,151.19 L786.0,151.44 L789.0,151.71 L792.0,151.99 L795.0,152.27 L798.0,152.57 L801.0,152.88 L804.0,153.20 L807.0,153.53 L810.0,153.88 L813.0,154.23 L816.0,154.60 L819.0,154.99 L822.0,155.39 L825.0,155.80 L828.0,156.22 L831.0,156.67 L834.0,157.12 L837.0,157.60 L840.0,158.09 L843.0,158.60 L846.0,159.12 L849.0,159.66 L852.0,160.22 L855.0,160.80 L858.0,161.40 L861.0,162.02 L864.0,162.66 L867.0,163.32 L870.0,164.00 L873.0,164.70 L876.0,165.42 L879.0,166.16 L882.0,166.91 L885.0,167.68 L888.0,168.46 L891.0,169.25 L894.0,170.04 L897.0,170.85 L900.0,171.65 L903.0,172.45 L906.0,173.25 L909.0,174.05 L912.0,174.84 L915.0,175.62 L918.0,176.38 L921.0,177.14 L924.0,177.88 L927.0,178.60 L929.0,179.06" fill="none" stroke="#2757ff" stroke-width="3" stroke-linejoin="round" stroke-dasharray="3.1 3"/>
<path d="M72.0,134.50 L75.0,134.54 L78.0,134.58 L81.0,134.61 L84.0,134.64 L87.0,134.66 L90.0,134.67 L93.0,134.68 L96.0,134.68 L99.0,134.68 L102.0,134.67 L105.0,134.66 L108.0,134.64 L111.0,134.62 L114.0,134.59 L117.0,134.56 L120.0,134.52 L123.0,134.48 L126.0,134.44 L129.0,134.39 L132.0,134.34 L135.0,134.28 L138.0,134.22 L141.0,134.16 L144.0,134.10 L147.0,134.03 L150.0,133.96 L153.0,133.88 L156.0,133.81 L159.0,133.73 L162.0,133.65 L165.0,133.56 L168.0,133.48 L171.0,133.39 L174.0,133.30 L177.0,133.21 L180.0,133.12 L183.0,133.02 L186.0,132.93 L189.0,132.83 L192.0,132.73 L195.0,132.64 L198.0,132.54 L201.0,132.44 L204.0,132.34 L207.0,132.24 L210.0,132.14 L213.0,132.04 L216.0,131.95 L219.0,131.85 L222.0,131.75 L225.0,131.65 L228.0,131.56 L231.0,131.46 L234.0,131.37 L237.0,131.27 L240.0,131.18 L243.0,131.09 L246.0,131.01 L249.0,130.92 L252.0,130.83 L255.0,130.75 L258.0,130.67 L261.0,130.60 L264.0,130.52 L267.0,130.45 L270.0,130.38 L273.0,130.31 L276.0,130.25 L279.0,130.19 L282.0,130.13 L285.0,130.08 L288.0,130.03 L291.0,129.99 L294.0,129.94 L297.0,129.91 L300.0,129.87 L303.0,129.85 L306.0,129.82 L309.0,129.80 L312.0,129.79 L315.0,129.78 L318.0,129.77 L321.0,129.77 L324.0,129.78 L327.0,129.79 L330.0,129.80 L333.0,129.82 L336.0,129.85 L339.0,129.87 L342.0,129.91 L345.0,129.94 L348.0,129.98 L351.0,130.03 L354.0,130.08 L357.0,130.13 L360.0,130.18 L363.0,130.24 L366.0,130.31 L369.0,130.37 L372.0,130.44 L375.0,130.52 L378.0,130.59 L381.0,130.67 L384.0,130.76 L387.0,130.84 L390.0,130.93 L393.0,131.03 L396.0,131.12 L399.0,131.22 L402.0,131.32 L405.0,131.42 L408.0,131.53 L411.0,131.64 L414.0,131.75 L417.0,131.86 L420.0,131.98 L423.0,132.09 L426.0,132.21 L429.0,132.33 L432.0,132.45 L435.0,132.58 L438.0,132.71 L441.0,132.83 L444.0,132.96 L447.0,133.09 L450.0,133.23 L453.0,133.36 L456.0,133.49 L459.0,133.63 L462.0,133.77 L465.0,133.90 L468.0,134.04 L471.0,134.18 L474.0,134.32 L477.0,134.46 L480.0,134.61 L483.0,134.75 L486.0,134.89 L489.0,135.03 L492.0,135.17 L495.0,135.32 L498.0,135.46 L501.0,135.60 L504.0,135.75 L507.0,135.89 L510.0,136.03 L513.0,136.17 L516.0,136.32 L519.0,136.46 L522.0,136.60 L525.0,136.74 L528.0,136.88 L531.0,137.01 L534.0,137.15 L537.0,137.29 L540.0,137.42 L543.0,137.55 L546.0,137.68 L549.0,137.81 L552.0,137.94 L555.0,138.07 L558.0,138.19 L561.0,138.31 L564.0,138.43 L567.0,138.54 L570.0,138.66 L573.0,138.77 L576.0,138.88 L579.0,138.98 L582.0,139.08 L585.0,139.18 L588.0,139.27 L591.0,139.37 L594.0,139.45 L597.0,139.54 L600.0,139.62 L603.0,139.70 L606.0,139.77 L609.0,139.84 L612.0,139.90 L615.0,139.96 L618.0,140.01 L621.0,140.06 L624.0,140.11 L627.0,140.15 L630.0,140.18 L633.0,140.21 L636.0,140.24 L639.0,140.26 L642.0,140.27 L645.0,140.28 L648.0,140.29 L651.0,140.29 L654.0,140.28 L657.0,140.28 L660.0,140.26 L663.0,140.25 L666.0,140.23 L669.0,140.20 L672.0,140.18 L675.0,140.15 L678.0,140.11 L681.0,140.08 L684.0,140.04 L687.0,139.99 L690.0,139.95 L693.0,139.90 L696.0,139.85 L699.0,139.80 L702.0,139.74 L705.0,139.69 L708.0,139.63 L711.0,139.57 L714.0,139.51 L717.0,139.44 L720.0,139.38 L723.0,139.32 L726.0,139.25 L729.0,139.18 L732.0,139.11 L735.0,139.05 L738.0,138.98 L741.0,138.91 L744.0,138.84 L747.0,138.77 L750.0,138.70 L753.0,138.63 L756.0,138.56 L759.0,138.50 L762.0,138.43 L765.0,138.37 L768.0,138.30 L771.0,138.24 L774.0,138.18 L777.0,138.12 L780.0,138.07 L783.0,138.02 L786.0,137.97 L789.0,137.92 L792.0,137.88 L795.0,137.84 L798.0,137.81 L801.0,137.78 L804.0,137.76 L807.0,137.74 L810.0,137.72 L813.0,137.72 L816.0,137.71 L819.0,137.72 L822.0,137.73 L825.0,137.74 L828.0,137.77 L831.0,137.80 L834.0,137.83 L837.0,137.88 L840.0,137.93 L843.0,137.99 L846.0,138.06 L849.0,138.14 L852.0,138.23 L855.0,138.33 L858.0,138.44 L861.0,138.55 L864.0,138.68 L867.0,138.81 L870.0,138.96 L873.0,139.12 L876.0,139.29 L879.0,139.47 L882.0,139.66 L885.0,139.87 L888.0,140.08 L891.0,140.31 L894.0,140.55 L897.0,140.81 L900.0,141.07 L903.0,141.36 L906.0,141.65 L909.0,141.96 L912.0,142.28 L915.0,142.62 L918.0,142.97 L921.0,143.34 L924.0,143.72 L927.0,144.12 L929.0,144.40" fill="none" stroke="#2757ff" stroke-width="3" stroke-linejoin="round"/>
</g>
<g class="ax">
<text transform="translate(51.5,667.8) scale(1.00,1)" text-anchor="end">0</text>
<text transform="translate(51.5,611.2) scale(0.93,1)" text-anchor="end">0.1</text>
<text transform="translate(51.5,554.6) scale(0.93,1)" text-anchor="end">0.2</text>
<text transform="translate(51.5,498.0) scale(0.93,1)" text-anchor="end">0.3</text>
<text transform="translate(51.5,441.4) scale(0.93,1)" text-anchor="end">0.4</text>
<text transform="translate(51.5,384.8) scale(0.93,1)" text-anchor="end">0.5</text>
<text transform="translate(51.5,328.2) scale(0.93,1)" text-anchor="end">0.6</text>
<text transform="translate(51.5,271.6) scale(0.93,1)" text-anchor="end">0.7</text>
<text transform="translate(51.5,215.0) scale(0.93,1)" text-anchor="end">0.8</text>
<text transform="translate(51.5,158.4) scale(0.93,1)" text-anchor="end">0.9</text>
<text transform="translate(51.5,101.8) scale(1.00,1)" text-anchor="end">1</text>
<text x="79.2" y="702.7" text-anchor="middle">0</text>
<text x="262.4" y="702.7" text-anchor="middle">5</text>
<text x="453.6" y="702.7" text-anchor="middle">10</text>
<text x="649.4" y="702.7" text-anchor="middle">15</text>
<text x="845.2" y="702.7" text-anchor="middle">20</text>
<text x="918.0" y="702.7" text-anchor="middle">22</text>
</g>
<g class="lg">
<rect x="186.0" y="765" width="31" height="31" fill="#f36829"/>
<text x="229.5" y="789" fill="#f36829">T10_F1.4</text>
<line x1="342.0" y1="766.2" x2="373.0" y2="766.2" stroke="#f36829" stroke-width="2.4" stroke-dasharray="5 3.67"/>
<line x1="342.0" y1="794.8" x2="373.0" y2="794.8" stroke="#f36829" stroke-width="2.4" stroke-dasharray="5 3.67"/>
<line x1="343.2" y1="765.0" x2="343.2" y2="796.0" stroke="#f36829" stroke-width="2.4" stroke-dasharray="5 3.67"/>
<line x1="371.8" y1="765.0" x2="371.8" y2="796.0" stroke="#f36829" stroke-width="2.4" stroke-dasharray="5 3.67"/>
<text x="385.5" y="789" fill="#f36829">S10_F1.4</text>
<rect x="497.0" y="765" width="31" height="31" fill="#2757ff"/>
<text x="540.5" y="789" fill="#2757ff">T10_F5.6</text>
<line x1="652.5" y1="766.2" x2="683.5" y2="766.2" stroke="#2757ff" stroke-width="2.4" stroke-dasharray="5 3.67"/>
<line x1="652.5" y1="794.8" x2="683.5" y2="794.8" stroke="#2757ff" stroke-width="2.4" stroke-dasharray="5 3.67"/>
<line x1="653.7" y1="765.0" x2="653.7" y2="796.0" stroke="#2757ff" stroke-width="2.4" stroke-dasharray="5 3.67"/>
<line x1="682.3" y1="765.0" x2="682.3" y2="796.0" stroke="#2757ff" stroke-width="2.4" stroke-dasharray="5 3.67"/>
<text x="696.0" y="789" fill="#2757ff">S10_F5.6</text>
<rect x="186.0" y="809" width="31" height="31" fill="#ff2994"/>
<text x="229.5" y="833" fill="#ff2994">T30_F1.4</text>
<rect x="343.25" y="810.25" width="28.5" height="28.5" fill="none" stroke="#ff2994" stroke-width="2.5"/>
<text x="385.5" y="833" fill="#ff2994">S30_F1.4</text>
<rect x="497.0" y="809" width="31" height="31" fill="#0fce5a"/>
<text x="540.5" y="833" fill="#0fce5a">T30_F5.6</text>
<rect x="653.75" y="810.25" width="28.5" height="28.5" fill="none" stroke="#0fce5a" stroke-width="2.5"/>
<text x="696.0" y="833" fill="#0fce5a">S30_F5.6</text>
</g>
</svg>
</body></html>
